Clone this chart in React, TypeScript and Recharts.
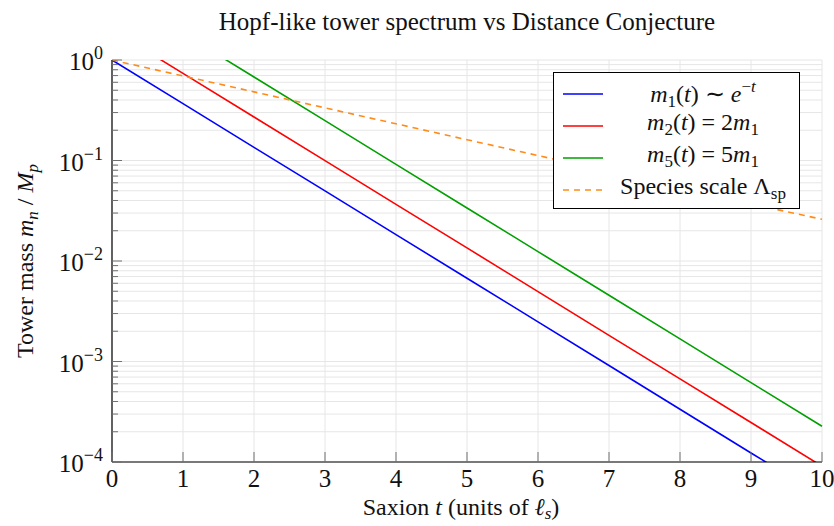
import React from "react";
import { LineChart, Line, XAxis, YAxis, CartesianGrid, Legend, Label } from "recharts";

// saxion t, sampled at integers
const saxion = [0, 1, 2, 3, 4, 5, 6, 7, 8, 9, 10];
const tower1 = [1, 0.368, 0.135, 0.0498, 0.0183, 0.00674, 0.00248, 0.000912, 0.000335, 0.000123, 0.0000454];
const tower2 = [2, 0.736, 0.271, 0.0996, 0.0366, 0.0135, 0.00496, 0.00182, 0.000671, 0.000247, 0.0000908];
const tower5 = [5, 1.84, 0.677, 0.249, 0.0916, 0.0337, 0.0124, 0.00456, 0.00168, 0.000617, 0.000227];
const species = [1, 0.694, 0.482, 0.334, 0.232, 0.161, 0.112, 0.078, 0.054, 0.037, 0.026];

const xTicks = [0, 1, 2, 3, 4, 5, 6, 7, 8, 9, 10];
const yMajor = [0.0001, 0.001, 0.01, 0.1, 1];
const yMinor = [
  0.0002, 0.0003, 0.0004, 0.0005, 0.0006, 0.0007, 0.0008, 0.0009,
  0.002, 0.003, 0.004, 0.005, 0.006, 0.007, 0.008, 0.009,
  0.02, 0.03, 0.04, 0.05, 0.06, 0.07, 0.08, 0.09,
  0.2, 0.3, 0.4, 0.5, 0.6, 0.7, 0.8, 0.9,
];
const yTicks = [...yMajor, ...yMinor].sort((a, b) => a - b);

const data = saxion.map((t, i) => ({
  t,
  m1: tower1[i],
  m2: tower2[i],
  m5: tower5[i],
  sp: species[i],
}));

const FONT = "'Liberation Serif', serif";
const TICK = "#707070";

const isMajor = (v: number) => yMajor.some((m) => Math.abs(m - v) < v * 1e-6);

function BottomTick({ x, y, payload }: any) {
  return (
    <g>
      <line x1={x} x2={x} y1={y} y2={y - 10} stroke={TICK} />
      <text x={x} y={y + 25} textAnchor="middle" fontFamily={FONT} fontSize={25} fill="#111">
        {payload.value}
      </text>
    </g>
  );
}

function TopTick({ x, y }: any) {
  return <line x1={x} x2={x} y1={y} y2={y + 10} stroke={TICK} />;
}

function LeftTick({ x, y, payload }: any) {
  const major = isMajor(payload.value);
  const exp = Math.round(Math.log10(payload.value));
  return (
    <g>
      <line x1={x} x2={x + (major ? 10 : 6)} y1={y} y2={y} stroke={TICK} />
      {major && (
        <text x={x - 9} y={y + 10} textAnchor="end" fontFamily={FONT} fontSize={25} fill="#111">
          10
          <tspan dy={-11} fontSize={18}>{exp < 0 ? "\u2212" + -exp : exp}</tspan>
        </text>
      )}
    </g>
  );
}

function RightTick({ x, y, payload }: any) {
  const major = isMajor(payload.value);
  return <line x1={x} x2={x - (major ? 10 : 6)} y1={y} y2={y} stroke={TICK} />;
}

function XLabel({ viewBox }: any) {
  const cx = viewBox.x + viewBox.width / 2;
  return (
    <text x={cx - 6} y={515} textAnchor="middle" fontFamily={FONT} fontSize={24} fill="#111">
      Saxion <tspan fontStyle="italic">t</tspan> (units of <tspan fontStyle="italic">ℓ</tspan>
      <tspan dy={4} fontSize={17} fontStyle="italic">s</tspan>
      <tspan dy={-4}>)</tspan>
    </text>
  );
}

function YLabel({ viewBox }: any) {
  const cy = viewBox.y + viewBox.height / 2;
  return (
    <text
      x={33}
      y={cy}
      transform={`rotate(-90, 33, ${cy})`}
      textAnchor="middle"
      fontFamily={FONT}
      fontSize={24}
      fill="#111"
    >
      Tower mass <tspan fontStyle="italic">m</tspan>
      <tspan dy={5} fontSize={17} fontStyle="italic">n</tspan>
      <tspan dy={-5}> / </tspan>
      <tspan fontStyle="italic">M</tspan>
      <tspan dy={5} fontSize={17} fontStyle="italic">p</tspan>
    </text>
  );
}

const sample = (color: string, dashed?: boolean) => (
  <svg width={40} height={4} style={{ display: "block" }}>
    <line x1={0} x2={40} y1={2} y2={2} stroke={color} strokeWidth={1.6} strokeDasharray={dashed ? "6 5" : undefined} />
  </svg>
);

const subStyle = { fontSize: 17, verticalAlign: "-5px" } as const;
const supStyle = { fontSize: 17, verticalAlign: "10px" } as const;

const legendRows = [
  { color: "#0000ff", label: <><i>m</i><span style={subStyle}>1</span>(<i>t</i>) ∼ <i>e</i><span style={supStyle}>−<i>t</i></span></> },
  { color: "#ff0000", label: <><i>m</i><span style={subStyle}>2</span>(<i>t</i>) = 2<i>m</i><span style={subStyle}>1</span></> },
  { color: "#00a000", label: <><i>m</i><span style={subStyle}>5</span>(<i>t</i>) = 5<i>m</i><span style={subStyle}>1</span></> },
  { color: "#ff8c1a", dashed: true, label: <>Species scale Λ<span style={subStyle}>sp</span></> },
];

function LegendBox() {
  return (
    <div
      style={{
        border: "1px solid #000",
        background: "#fff",
        width: 247,
        height: 137,
        boxSizing: "border-box",
        padding: "5px 0 0 9px",
        fontFamily: FONT,
        fontSize: 24,
        color: "#111",
      }}
    >
      {legendRows.map((r, i) => (
        <div key={i} style={{ display: "flex", alignItems: "center", height: 32 }}>
          {sample(r.color, r.dashed)}
          <div style={{ flex: 1, textAlign: "center", lineHeight: "24px", whiteSpace: "nowrap", paddingLeft: 4 }}>
            {r.label}
          </div>
        </div>
      ))}
    </div>
  );
}

export default function App() {
  return (
    <div style={{ position: "absolute", left: 0, top: 0, width: 834, height: 526, background: "#fff" }}>
      <div
        style={{
          position: "absolute",
          left: 0,
          top: 7,
          width: 934,
          textAlign: "center",
          fontFamily: FONT,
          fontSize: 25,
          lineHeight: "30px",
          color: "#111",
          zIndex: 2,
        }}
      >
        Hopf-like tower spectrum vs Distance Conjecture
      </div>
      <LineChart width={834} height={526} data={data} margin={{ top: 60, right: 12, bottom: 0, left: 0 }}>
        <CartesianGrid stroke="#e6e6e6" strokeWidth={1} />
        <XAxis
          dataKey="t"
          type="number"
          domain={[0, 10]}
          ticks={xTicks}
          height={64}
          tickSize={0}
          tickMargin={0}
          tickLine={false}
          axisLine={{ stroke: "#000", strokeWidth: 1.2 }}
          tick={<BottomTick />}
          interval={0}
        >
          <Label content={<XLabel />} />
        </XAxis>
        <XAxis
          xAxisId="top"
          orientation="top"
          dataKey="t"
          type="number"
          domain={[0, 10]}
          ticks={xTicks}
          height={0}
          tickSize={0}
          tickMargin={0}
          tickLine={false}
          axisLine={{ stroke: "#000", strokeWidth: 1.2 }}
          tick={<TopTick />}
          interval={0}
        />
        <YAxis
          scale="log"
          type="number"
          domain={[0.0001, 1]}
          allowDataOverflow
          ticks={yTicks}
          width={112}
          tickSize={0}
          tickMargin={0}
          tickLine={false}
          axisLine={{ stroke: "#000", strokeWidth: 1.2 }}
          tick={<LeftTick />}
          interval={0}
        >
          <Label content={<YLabel />} />
        </YAxis>
        <YAxis
          yAxisId="right"
          orientation="right"
          scale="log"
          type="number"
          domain={[0.0001, 1]}
          allowDataOverflow
          ticks={yTicks}
          width={0}
          tickSize={0}
          tickMargin={0}
          tickLine={false}
          axisLine={{ stroke: "#000", strokeWidth: 1.2 }}
          tick={<RightTick />}
          interval={0}
        />
        <Line dataKey="m1" stroke="#0000ff" strokeWidth={1.6} dot={false} isAnimationActive={false} />
        <Line dataKey="m2" stroke="#ff0000" strokeWidth={1.6} dot={false} isAnimationActive={false} />
        <Line dataKey="m5" stroke="#00a000" strokeWidth={1.6} dot={false} isAnimationActive={false} />
        <Line
          dataKey="sp"
          stroke="#ff8c1a"
          strokeWidth={1.6}
          strokeDasharray="6 5"
          dot={false}
          isAnimationActive={false}
        />
        <Legend
          layout="vertical"
          align="center"
          verticalAlign="middle"
          content={<LegendBox />}
          wrapperStyle={{ position: "absolute", left: 553, top: 72, width: 247 }}
        />
      </LineChart>
    </div>
  );
}
